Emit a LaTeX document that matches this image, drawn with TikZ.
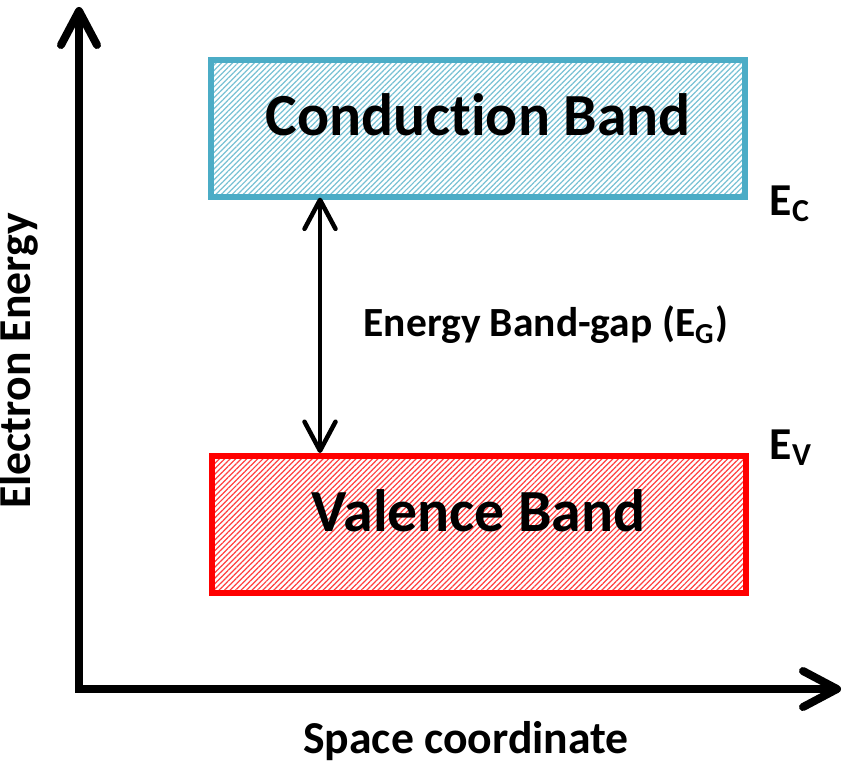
\documentclass[tikz,border=0pt]{standalone}
\usepackage{fontspec}
\setmainfont{Carlito}[Ligatures=NoCommon]
\usetikzlibrary{arrows.meta,patterns.meta}
\definecolor{bandaqua}{HTML}{4BACC6}
\definecolor{bandred}{HTML}{FF0000}
\begin{document}
\begin{tikzpicture}[bandbox/.style = {line width=0.06cm, inner sep=0pt, minimum width=5.34cm, minimum height=1.37cm},
                    bandtxt/.style = {font=\fontsize{17}{20}\selectfont\bfseries, anchor=base, inner sep=0pt},
                    txt/.style     = {font=\fontsize{13}{15}\selectfont\bfseries, inner sep=0pt},
                    axisline/.style = {line width=0.08cm, {Straight Barb[round,length=3.4mm,width=3.6mm]}-{Straight Barb[round,length=3.4mm,width=3.6mm]}},
                    gaparrow/.style = {line width=0.045cm, {Straight Barb[round,length=2.9mm,width=3.1mm]}-{Straight Barb[round,length=2.9mm,width=3.1mm]}}]
            \useasboundingbox (0,0) rectangle (8.5,7.82);

            % axes
            \coordinate (ytip) at (0.79,7.75);
            \coordinate (org)  at (0.79,0.93);
            \coordinate (xtip) at (8.41,0.93);
            \draw[axisline] (ytip) -- (org) -- (xtip);

            % bands
            \node[bandbox, draw=bandaqua, pattern={Lines[angle=45,distance=1.1pt,line width=0.35pt]}, pattern color=bandaqua!75] (cb) at (4.78,6.535) {};
            \node[bandbox, draw=bandred, pattern={Lines[angle=45,distance=1.1pt,line width=0.35pt]}, pattern color=bandred!75] (vb) at (4.785,2.575) {};
            \node[bandtxt] (cbtxt) at ([yshift=-0.075cm]cb.center) {Conduction Band};
            \node[bandtxt] (vbtxt) at ([yshift=-0.065cm]vb.center) {Valence Band};

            % gap
            \coordinate (gx) at (3.20,0);
            \draw[gaparrow] (cb.south -| gx) -- (vb.north -| gx);
            \node[txt, font=\fontsize{11.8}{14}\selectfont\bfseries] (gaplbl) at (5.46,4.57) {Energy Band-gap (E\textsubscript{G})};

            % levels
            \node[txt, anchor=base west] (ec) at (7.69,5.67) {E\textsubscript{C}};
            \node[txt, anchor=base west] (ev) at (7.69,3.23) {E\textsubscript{V}};

            % axis labels
            \node[txt, anchor=base, rotate=90] (ylbl) at (0.31,4.21) {Electron Energy};
            \node[txt, anchor=base] (xlbl) at (4.66,0.29) {Space coordinate};
        \end{tikzpicture}
\end{document}
